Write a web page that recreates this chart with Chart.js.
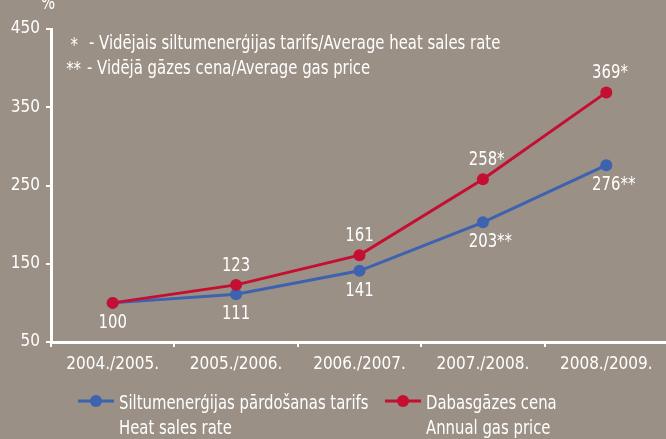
<!DOCTYPE html>
<html><head><meta charset="utf-8">
<script src="https://cdn.jsdelivr.net/npm/chart.js@4.4.0/dist/chart.umd.min.js"></script>
<style>html,body{margin:0;padding:0;background:#9b9085;overflow:hidden}#wrap{width:666px;height:439px;position:relative;overflow:hidden}</style>
</head><body><div id="wrap"><canvas id="c" width="674" height="439"></canvas></div>
<script>
const categories = ["2004./2005.", "2005./2006.", "2006./2007.", "2007./2008.", "2008./2009."];
const heatValues = [100, 111, 141, 203, 276];
const gasValues = [100, 123, 161, 258, 369];
const heatLabels = ["100", "111", "141", "203", "276"];
const heatSuffix = ["", "", "", "**", "**"];
const gasLabels = [null, "123", "161", "258", "369"];
const gasSuffix = ["", "", "", "*", "*"];
const yTicks = [50, 150, 250, 350, 450];
const heatName = ["Siltumenerģijas pārdošanas tarifs", "Heat sales rate"];
const gasName = ["Dabasgāzes cena", "Annual gas price"];
const notes = [["*", "- Vidējais siltumenerģijas tarifs/Average heat sales rate"], ["**", "- Vidējā gāzes cena/Average gas price"]];
const unitLabel = "%";

const FONT = "'DejaVu Sans Condensed','Liberation Sans Narrow',sans-serif";
const BG = '#9b9085';
const BLUE = '#3d62b0';
const RED = '#c50f32';
const WHITE = '#ffffff';
const SQ = 0.87;

function squeezeText(ctx, text, x, y, align) {
  const w = ctx.measureText(text).width * SQ;
  let left = x;
  if (align === 'center') left = x - w / 2;
  else if (align === 'right') left = x - w;
  ctx.save();
  ctx.translate(left, y);
  ctx.scale(SQ, 1);
  ctx.textAlign = 'left';
  ctx.fillText(text, 0, 0);
  ctx.restore();
}

const decorPlugin = {
  id: 'decor',
  beforeDraw(chart) {
    const ctx = chart.ctx;
    ctx.save();
    ctx.fillStyle = BG;
    ctx.fillRect(0, 0, chart.width, chart.height);
    ctx.restore();
  },
  afterDatasetsDraw(chart) {
    const ctx = chart.ctx;
    ctx.save();
    ctx.fillStyle = WHITE;
    ctx.font = '19px ' + FONT;
    ctx.textBaseline = 'middle';
    const drawLabels = (dsIndex, labels, suffix, dy) => {
      const meta = chart.getDatasetMeta(dsIndex);
      meta.data.forEach((pt, i) => {
        if (!labels[i]) return;
        const w = ctx.measureText(labels[i]).width * SQ;
        squeezeText(ctx, labels[i] + suffix[i], pt.x - w / 2, pt.y + dy, 'left');
      });
    };
    drawLabels(0, heatLabels, heatSuffix, 20);
    drawLabels(1, gasLabels, gasSuffix, -19);
    ctx.restore();
  },
  afterDraw(chart) {
    const ctx = chart.ctx;
    ctx.save();
    ctx.fillStyle = WHITE;
    ctx.font = '19px ' + FONT;
    ctx.textBaseline = 'middle';
    squeezeText(ctx, unitLabel, 48, 4, 'center');
    squeezeText(ctx, notes[0][0], 78, 46, 'right');
    squeezeText(ctx, notes[1][0], 81, 70, 'right');
    squeezeText(ctx, notes[0][1], 89, 44, 'left');
    squeezeText(ctx, notes[1][1], 87, 69, 'left');
    const items = [[BLUE, heatName, 78], [RED, gasName, 385]];
    items.forEach(([col, name, x0]) => {
      const y = 401;
      ctx.strokeStyle = col;
      ctx.lineWidth = 3;
      ctx.beginPath();
      ctx.moveTo(x0, y);
      ctx.lineTo(x0 + 36, y);
      ctx.stroke();
      ctx.fillStyle = col;
      ctx.beginPath();
      ctx.arc(x0 + 18, y, 6, 0, Math.PI * 2);
      ctx.fill();
      ctx.fillStyle = WHITE;
      squeezeText(ctx, name[0], x0 + 41, 404, 'left');
      squeezeText(ctx, name[1], x0 + 41, 429, 'left');
    });
    ctx.restore();
  }
};

new Chart(document.getElementById('c'), {
  type: 'line',
  data: {
    labels: categories,
    datasets: [
      { label: heatName.join(' '), data: heatValues, borderColor: BLUE, backgroundColor: BLUE, pointBackgroundColor: BLUE, pointBorderColor: BLUE, borderWidth: 3, pointRadius: 6, pointBorderWidth: 0, tension: 0, order: 1 },
      { label: gasName.join(' '), data: gasValues, borderColor: RED, backgroundColor: RED, pointBackgroundColor: RED, pointBorderColor: RED, borderWidth: 3, pointRadius: 6, pointBorderWidth: 0, tension: 0, order: 0 }
    ]
  },
  options: {
    responsive: false,
    animation: false,
    events: [],
    layout: { padding: { top: 29, right: 0, bottom: 60, left: 0 } },
    plugins: { legend: { display: false }, tooltip: { enabled: false }, title: { display: false } },
    scales: {
      x: {
        offset: true,
        grid: { offset: true, drawOnChartArea: false, drawTicks: true, tickLength: 5, color: WHITE, lineWidth: 2 },
        border: { color: WHITE, width: 3 },
        ticks: { color: WHITE, font: { family: FONT, size: 17 }, padding: 7, maxRotation: 0, autoSkip: false },
        afterFit(scale) { scale.height = 37; }
      },
      y: {
        min: 50, max: 450,
        afterBuildTicks(scale) { scale.ticks = yTicks.map(v => ({ value: v })); },
        grid: { drawOnChartArea: false, drawTicks: true, tickLength: 5, color: WHITE, lineWidth: 2 },
        border: { color: WHITE, width: 3 },
        ticks: { color: WHITE, font: { family: FONT, size: 17 }, padding: 6 },
        afterFit(scale) { scale.width = 51; }
      }
    }
  },
  plugins: [decorPlugin]
});
</script></body></html>
